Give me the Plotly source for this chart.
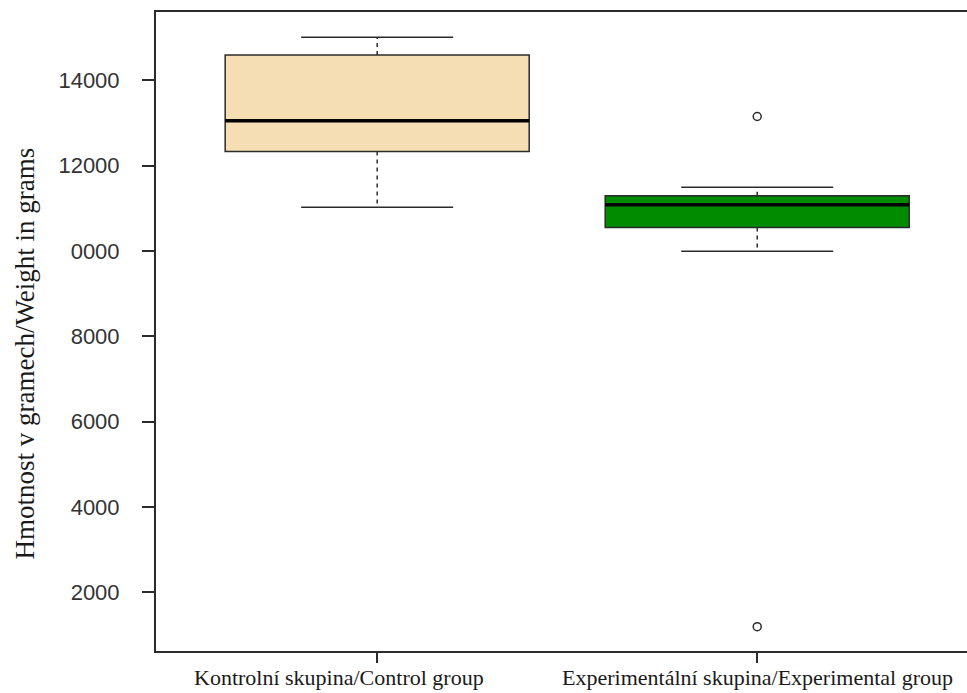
import plotly.graph_objects as go

# Group labels and summary statistics (grams)
groups = ["Kontrolní skupina/Control group", "Experimentální skupina/Experimental group"]
positions = [1, 2]
q1 = [12330, 10550]
median = [13050, 11080]
q3 = [14590, 11290]
whisker_low = [11020, 9990]
whisker_high = [15010, 11490]
outliers = [[], [13150, 1190]]
fill_colors = ["#F5DEB3", "#008B00"]

y_tickvals = [2000, 4000, 6000, 8000, 10000, 12000, 14000]
y_ticktext = ["2000", "4000", "6000", "8000", "0000", "12000", "14000"]

BOX_W = 0.8
CAP_HALF = 0.2
EDGE = "#2b2b2b"

fig = go.Figure()

for i, pos in enumerate(positions):
    # box body (fences collapsed onto the quartiles; whiskers drawn separately)
    fig.add_trace(go.Box(
        x=[pos], q1=[q1[i]], median=[median[i]], q3=[q3[i]],
        lowerfence=[q1[i]], upperfence=[q3[i]],
        width=BOX_W, whiskerwidth=0,
        fillcolor=fill_colors[i],
        line=dict(color=EDGE, width=1.5),
        boxpoints=False, hoverinfo="skip", showlegend=False,
    ))
    # thick median bar
    fig.add_trace(go.Scatter(
        x=[pos - BOX_W / 2, pos + BOX_W / 2], y=[median[i], median[i]],
        mode="lines", line=dict(color="black", width=3.5),
        hoverinfo="skip", showlegend=False,
    ))
    # dashed whiskers
    fig.add_trace(go.Scatter(
        x=[pos, pos, None, pos, pos],
        y=[q3[i], whisker_high[i], None, q1[i], whisker_low[i]],
        mode="lines", line=dict(color=EDGE, width=1.5, dash="4px,4px"),
        hoverinfo="skip", showlegend=False,
    ))
    # whisker caps
    fig.add_trace(go.Scatter(
        x=[pos - CAP_HALF, pos + CAP_HALF, None, pos - CAP_HALF, pos + CAP_HALF],
        y=[whisker_high[i], whisker_high[i], None, whisker_low[i], whisker_low[i]],
        mode="lines", line=dict(color=EDGE, width=1.5),
        hoverinfo="skip", showlegend=False,
    ))
    if outliers[i]:
        fig.add_trace(go.Scatter(
            x=[pos] * len(outliers[i]), y=outliers[i],
            mode="markers",
            marker=dict(symbol="circle-open", size=8, color=EDGE, line=dict(width=1.5)),
            hoverinfo="skip", showlegend=False,
        ))

# category labels under the x axis
label_shift = [-38, 0]
for i, pos in enumerate(positions):
    fig.add_annotation(
        x=pos, xref="x", y=0, yref="paper", yanchor="top", yshift=-12,
        xshift=label_shift[i],
        text=groups[i], showarrow=False,
        font=dict(family="Liberation Serif", size=22, color="#1a1a1a"),
    )

# y axis title
fig.add_annotation(
    x=0, xref="paper", xanchor="center", xshift=-131,
    y=0.4656, yref="paper", yanchor="middle",
    text="Hmotnost v gramech/Weight in grams", textangle=-90, showarrow=False,
    font=dict(family="Liberation Serif", size=27, color="#1a1a1a"),
)

fig.update_layout(
    width=967, height=693,
    margin=dict(l=156, r=0, t=12, b=42),
    paper_bgcolor="white", plot_bgcolor="white",
    boxmode="overlay",
    xaxis=dict(
        range=[0.418, 2.552], showgrid=False, zeroline=False,
        showline=True, linecolor=EDGE, linewidth=2, mirror=True,
        tickmode="array", tickvals=positions, ticks="outside",
        ticklen=10, tickwidth=1.5, tickcolor=EDGE, showticklabels=False,
    ),
    yaxis=dict(
        range=[620, 15600], showgrid=False, zeroline=False,
        showline=True, linecolor=EDGE, linewidth=2,
        tickmode="array", tickvals=y_tickvals, ticktext=y_ticktext,
        ticks="outside", ticklen=12, tickwidth=1.5, tickcolor=EDGE,
        ticklabelstandoff=18,
        tickfont=dict(family="Liberation Sans", size=22, color="#333333"),
    ),
)

fig.write_html("out.html")
